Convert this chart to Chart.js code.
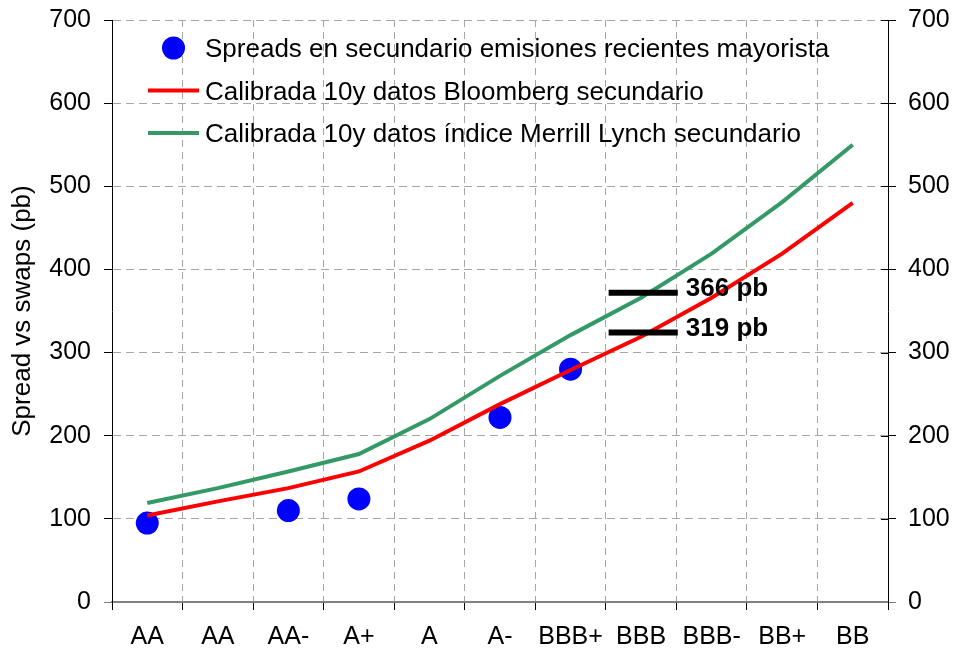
<!DOCTYPE html>
<html>
<head>
<meta charset="utf-8">
<script src="https://cdn.jsdelivr.net/npm/chart.js@4.4.1/dist/chart.umd.min.js"></script>
<style>
html,body{margin:0;padding:0;background:#ffffff;}
#wrap{width:956px;height:650px;}
</style>
</head>
<body>
<div id="wrap"><canvas id="c" width="956" height="650"></canvas></div>
<script>
// ---- data ----
const categories = ['AA', 'AA', 'AA-', 'A+', 'A', 'A-', 'BBB+', 'BBB', 'BBB-', 'BB+', 'BB'];
const spreadsSecundario = [95, null, 110, 124, null, 222, 280, null, null, null, null];
const calibradaBloomberg = [104, 121, 137, 157, 194, 238, 279, 319, 366, 419, 480];
const calibradaMerrill = [119, 137, 157, 178, 220, 272, 321, 366, 419, 481, 550];
const seriesNames = [
  'Spreads en secundario emisiones recientes mayorista',
  'Calibrada 10y datos Bloomberg secundario',
  'Calibrada 10y datos índice Merrill Lynch secundario'
];
const yTickValues = [0, 100, 200, 300, 400, 500, 600, 700];
const markerCategory = 'BBB';
const markerValues = [372, 324];
const markerLabels = ['366 pb', '319 pb'];
const yTitle = 'Spread vs swaps (pb)';

// ---- styles ----
const FONT = "'Liberation Sans', Arial, sans-serif";
const GRID = '#a6a6a6';
const CLEAR = 'rgba(0,0,0,0)';
const colors = ['#0000ff', '#ff0000', '#339966'];

const mIdx = categories.indexOf(markerCategory);
const markerDatasets = markerValues.map((v, i) => ({
  type: 'line',
  label: markerLabels[i],
  isMarker: true,
  xAxisID: 'x2',
  yAxisID: 'y',
  data: [{x: mIdx - 0.46, y: v}, {x: mIdx + 0.52, y: v}],
  borderColor: '#000',
  borderWidth: 6,
  borderCapStyle: 'butt',
  pointRadius: 0,
  order: 0
}));

const legendPlugin = {
  id: 'insideLegend',
  afterDraw(chart) {
    const ctx = chart.ctx;
    const rows = [48, 90.5, 133];
    ctx.save();
    ctx.font = '26px ' + FONT;
    ctx.fillStyle = '#000';
    ctx.textBaseline = 'alphabetic';
    ctx.textAlign = 'left';
    for (let i = 0; i < 3; i++) {
      const y = rows[i];
      if (i === 0) {
        ctx.beginPath();
        ctx.fillStyle = colors[0];
        ctx.arc(173.5, y, 11.5, 0, Math.PI * 2);
        ctx.fill();
      } else {
        ctx.beginPath();
        ctx.strokeStyle = colors[i];
        ctx.lineWidth = 4;
        ctx.moveTo(148, y);
        ctx.lineTo(199, y);
        ctx.stroke();
      }
      ctx.fillStyle = '#000';
      ctx.fillText(chart.data.datasets[i].label, 205, y + 9);
    }
    ctx.restore();
  }
};

const extrasPlugin = {
  id: 'extras',
  afterDraw(chart) {
    const ctx = chart.ctx;
    const area = chart.chartArea;
    const y2 = chart.scales.y2;
    ctx.save();
    // inner part of right axis tick marks
    ctx.lineWidth = 1;
    yTickValues.forEach(v => {
      const py = Math.round(y2.getPixelForValue(v)) + 0.5;
      ctx.strokeStyle = v === 0 ? '#808080' : '#000';
      ctx.beginPath();
      ctx.moveTo(area.right - 7, py);
      ctx.lineTo(area.right, py);
      ctx.stroke();
    });
    // marker labels
    ctx.font = 'bold 26px ' + FONT;
    ctx.fillStyle = '#000';
    ctx.textAlign = 'left';
    ctx.textBaseline = 'alphabetic';
    chart.data.datasets.forEach((ds, di) => {
      if (!ds.isMarker) return;
      const meta = chart.getDatasetMeta(di);
      const p = meta.data[meta.data.length - 1];
      ctx.fillText(ds.label, p.x + 8, p.y + 3);
    });
    ctx.restore();
  }
};

new Chart(document.getElementById('c'), {
  type: 'line',
  data: {
    labels: categories,
    datasets: [
      {
        label: seriesNames[0],
        data: spreadsSecundario,
        showLine: false,
        pointRadius: 11.5,
        pointBackgroundColor: colors[0],
        pointBorderWidth: 0,
        pointBorderColor: colors[0],
        borderColor: colors[0],
        order: 3
      },
      {
        label: seriesNames[1],
        data: calibradaBloomberg,
        borderColor: colors[1],
        borderWidth: 4,
        pointRadius: 0,
        tension: 0,
        order: 1
      },
      {
        label: seriesNames[2],
        data: calibradaMerrill,
        borderColor: colors[2],
        borderWidth: 4,
        pointRadius: 0,
        tension: 0,
        order: 2
      },
      ...markerDatasets
    ]
  },
  options: {
    responsive: false,
    animation: false,
    devicePixelRatio: 1,
    layout: {padding: {left: 7, top: 20, right: 0, bottom: 0}},
    plugins: {legend: {display: false}, tooltip: {enabled: false}},
    scales: {
      x: {
        type: 'category',
        offset: true,
        grid: {
          offset: true,
          color: c => (c.type !== 'tick' || c.index === 0) ? CLEAR : GRID,
          lineWidth: 1,
          tickColor: '#000',
          tickLength: 8,
          tickWidth: 1
        },
        border: {color: '#808080', width: 2, dash: [7, 5]},
        ticks: {color: '#000', font: {family: FONT, size: 25}, padding: 12, maxRotation: 0, autoSkip: false},
        afterFit: s => { s.height = 48; s.paddingLeft = 0; s.paddingRight = 0; }
      },
      x2: {
        type: 'linear',
        display: false,
        min: -0.5,
        max: categories.length - 0.5
      },
      y: {
        position: 'left',
        min: 0,
        max: 700,
        afterBuildTicks: s => { s.ticks = yTickValues.map(v => ({value: v})); },
        ticks: {color: '#000', font: {family: FONT, size: 25}, padding: 13},
        grid: {
          color: c => (c.tick && c.tick.value === 0) ? CLEAR : GRID,
          tickColor: c => (c.tick && c.tick.value === 0) ? '#808080' : '#000',
          tickLength: 8,
          lineWidth: 1
        },
        border: {color: '#000', width: 1, dash: [8, 5]},
        title: {display: true, text: yTitle, color: '#000', font: {family: FONT, size: 26}, padding: 0},
        afterFit: s => { s.width = 105; s.paddingTop = 0; s.paddingBottom = 0; }
      },
      y2: {
        position: 'right',
        min: 0,
        max: 700,
        afterBuildTicks: s => { s.ticks = yTickValues.map(v => ({value: v})); },
        ticks: {color: '#000', font: {family: FONT, size: 25}, padding: 12},
        grid: {
          drawOnChartArea: false,
          tickColor: c => (c.tick && c.tick.value === 0) ? '#808080' : '#000',
          tickLength: 8
        },
        border: {color: '#000', width: 1},
        afterFit: s => { s.width = 68; s.paddingTop = 0; s.paddingBottom = 0; }
      }
    }
  },
  plugins: [legendPlugin, extrasPlugin]
});
</script>
</body>
</html>
